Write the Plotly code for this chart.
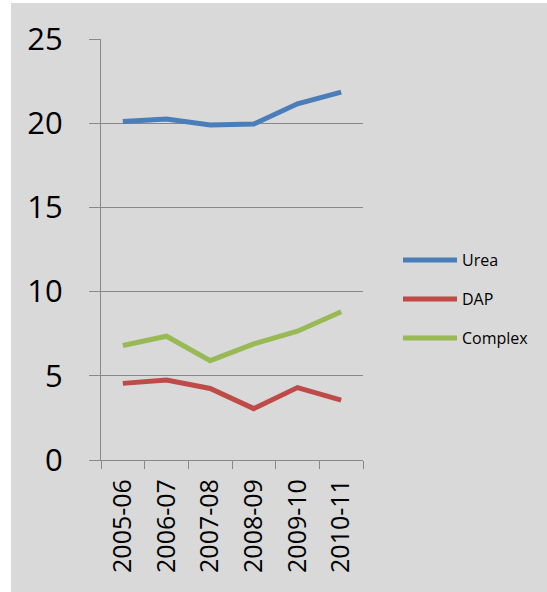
import plotly.graph_objects as go

# Fertiliser consumption by type, per year
years = ["2005-06", "2006-07", "2007-08", "2008-09", "2009-10", "2010-11"]
urea = [20.1, 20.25, 19.9, 19.95, 21.15, 21.85]
dap = [4.55, 4.75, 4.25, 3.05, 4.3, 3.55]
complex_fert = [6.8, 7.35, 5.9, 6.9, 7.65, 8.8]

y_ticks = [0, 5, 10, 15, 20, 25]

series = [
    ("Urea", urea, "#4a7ebb"),
    ("DAP", dap, "#be4b48"),
    ("Complex", complex_fert, "#98b954"),
]

FONT = "Open Sans"
GRID = "#888888"
BG = "#d9d9d9"

W, H = 547, 592
ml, mr, mt, mb = 101, 184, 39, 132
pw = W - ml - mr
ph = H - mt - mb


def px_x(px):
    """Pixel column -> paper x."""
    return (px - ml) / pw


def px_y(py):
    """Pixel row -> paper y."""
    return (H - mb - py) / ph


fig = go.Figure()
for name, vals, color in series:
    fig.add_trace(go.Scatter(
        x=years, y=vals, name=name, mode="lines",
        line=dict(color=color, width=5),
    ))

# Legend drawn as key lines plus labels to the right of the plot
shapes = [
    # white margin strips along the left and top edges
    dict(type="rect", xref="paper", yref="paper", layer="below",
         x0=px_x(0), x1=px_x(11), y0=px_y(H), y1=px_y(0),
         fillcolor="#ffffff", line=dict(width=0)),
    dict(type="rect", xref="paper", yref="paper", layer="below",
         x0=px_x(0), x1=px_x(W), y0=px_y(3), y1=px_y(0),
         fillcolor="#ffffff", line=dict(width=0)),
]
annotations = []
key_top, key_step = 260, 39
for i, (name, _, color) in enumerate(series):
    ky = px_y(key_top + i * key_step)
    shapes.append(dict(
        type="line", xref="paper", yref="paper",
        x0=px_x(403), x1=px_x(457), y0=ky, y1=ky,
        line=dict(color=color, width=5),
    ))
    annotations.append(dict(
        xref="paper", yref="paper", x=px_x(460), y=ky,
        xanchor="left", yanchor="middle", showarrow=False,
        text=name, font=dict(size=16, family=FONT, color="#000000"),
    ))

fig.update_layout(
    width=W, height=H,
    margin=dict(l=ml, r=mr, t=mt, b=mb, pad=0),
    paper_bgcolor=BG, plot_bgcolor=BG,
    font=dict(family=FONT, color="#000000"),
    showlegend=False,
    shapes=shapes,
    annotations=annotations,
)

fig.update_xaxes(
    type="category", range=[-0.5, len(years) - 0.5],
    showline=True, linecolor=GRID, linewidth=1.3,
    ticks="outside", tickson="boundaries", ticklen=8, tickcolor=GRID, tickwidth=1.3,
    showgrid=False, tickangle=-90,
    tickfont=dict(size=25, family=FONT, color="#000000"),
    ticklabelstandoff=8,
)
fig.update_yaxes(
    range=[0, 25], tickvals=y_ticks,
    showline=True, linecolor=GRID, linewidth=1.3,
    ticks="outside", ticklen=11, tickcolor=GRID, tickwidth=1.3,
    showgrid=True, gridcolor=GRID, gridwidth=1.3,
    zeroline=False,
    tickfont=dict(size=31, family=FONT, color="#000000"),
    ticklabelstandoff=20,
)

fig.write_html("out.html")
